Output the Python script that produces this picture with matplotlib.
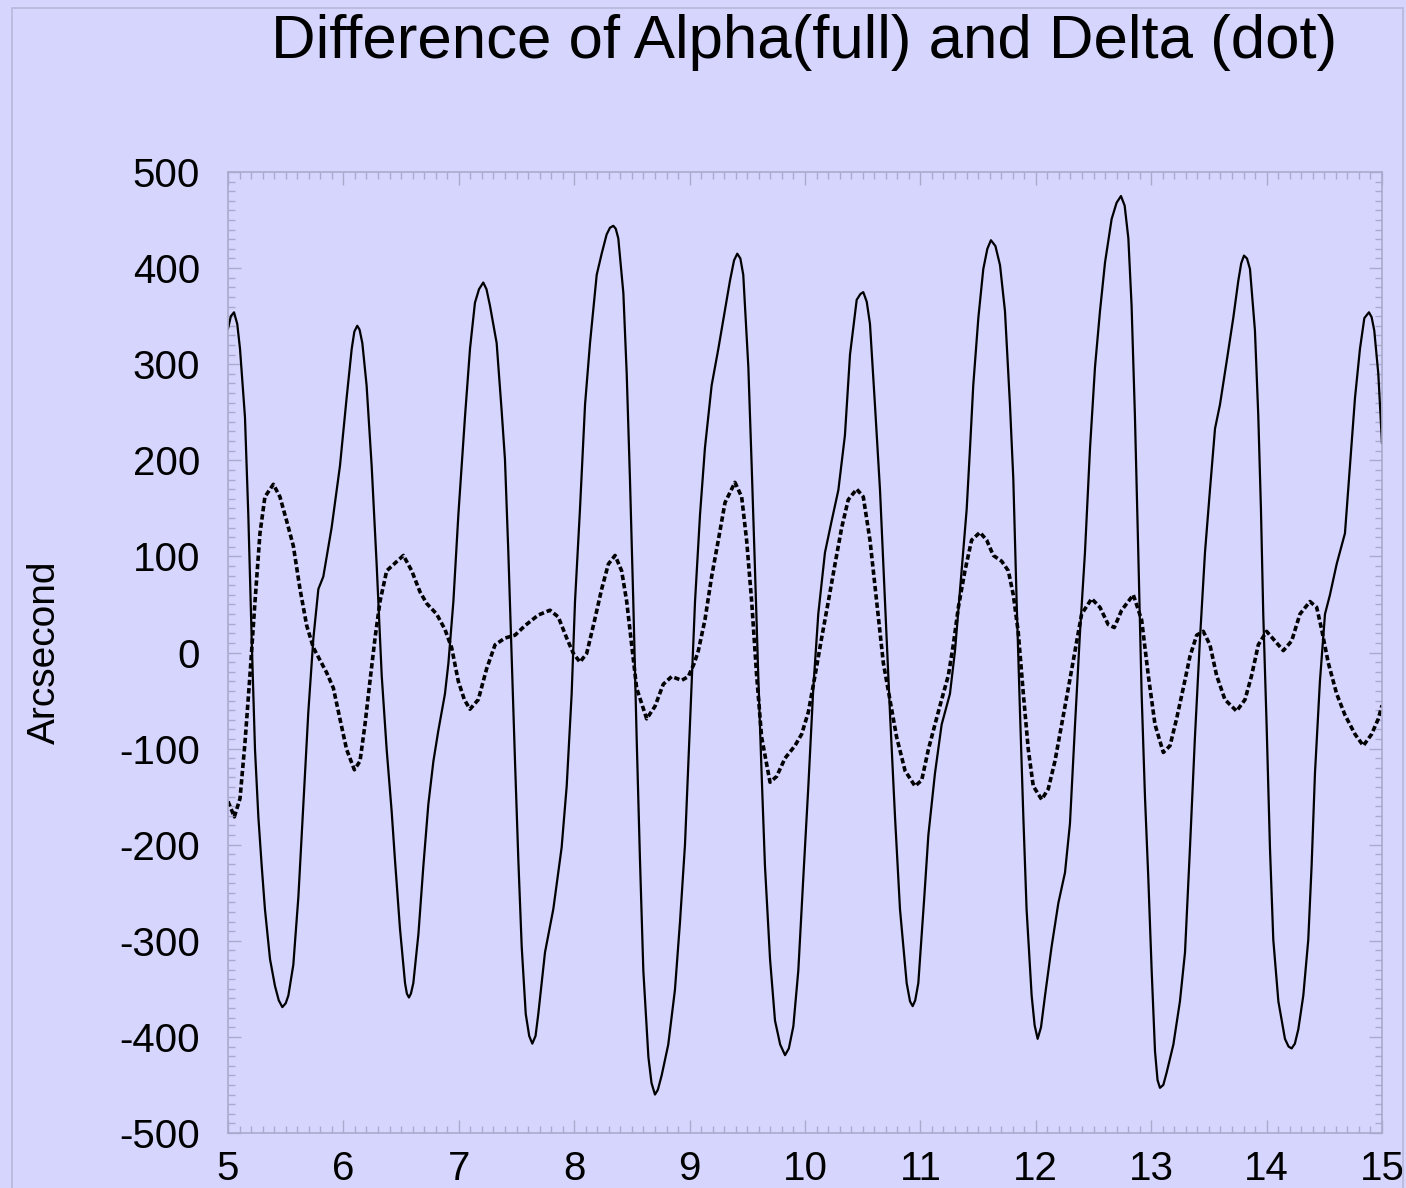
import matplotlib
matplotlib.use("Agg")
import matplotlib.pyplot as plt
from matplotlib.ticker import MultipleLocator
from matplotlib.patches import Rectangle

# values
alpha_x = [5.0, 5.025, 5.052, 5.08, 5.104, 5.147, 5.176, 5.205, 5.234, 5.263, 5.292, 5.32, 5.364,
           5.407, 5.44, 5.471, 5.5, 5.523, 5.566, 5.61, 5.653, 5.696, 5.74, 5.783, 5.826, 5.898,
           5.97, 6.028, 6.072, 6.095, 6.12, 6.14, 6.164, 6.201, 6.245, 6.288, 6.332, 6.375, 6.418,
           6.447, 6.49, 6.534, 6.55, 6.568, 6.585, 6.606, 6.65, 6.693, 6.736, 6.78, 6.823, 6.88,
           6.91, 6.953, 6.996, 7.054, 7.097, 7.14, 7.175, 7.212, 7.24, 7.27, 7.328, 7.371, 7.40,
           7.429, 7.458, 7.487, 7.516, 7.545, 7.58, 7.61, 7.637, 7.665, 7.689, 7.747, 7.819, 7.891,
           7.935, 7.978, 8.007, 8.05, 8.094, 8.137, 8.195, 8.238, 8.281, 8.31, 8.339, 8.36, 8.382,
           8.426, 8.455, 8.483, 8.512, 8.541, 8.57, 8.599, 8.643, 8.67, 8.70, 8.725, 8.758, 8.815,
           8.873, 8.917, 8.96, 9.003, 9.047, 9.09, 9.133, 9.191, 9.249, 9.321, 9.35, 9.385, 9.413,
           9.44, 9.465, 9.509, 9.538, 9.567, 9.595, 9.624, 9.653, 9.697, 9.74, 9.785, 9.827, 9.86,
           9.899, 9.942, 9.985, 10.029, 10.072, 10.115, 10.173, 10.231, 10.289, 10.346, 10.39,
           10.448, 10.48, 10.505, 10.535, 10.563, 10.606, 10.65, 10.693, 10.736, 10.78, 10.823,
           10.881, 10.91, 10.933, 10.955, 10.982, 11.034, 11.069, 11.126, 11.184, 11.256, 11.3,
           11.357, 11.401, 11.43, 11.458, 11.502, 11.545, 11.58, 11.611, 11.65, 11.69, 11.733,
           11.776, 11.805, 11.834, 11.863, 11.892, 11.92, 11.964, 11.99, 12.016, 12.045, 12.08,
           12.137, 12.195, 12.253, 12.296, 12.34, 12.383, 12.426, 12.47, 12.513, 12.556, 12.6,
           12.657, 12.7, 12.738, 12.77, 12.802, 12.83, 12.859, 12.888, 12.917, 12.946, 12.975,
           13.004, 13.033, 13.055, 13.076, 13.105, 13.134, 13.192, 13.249, 13.293, 13.336, 13.379,
           13.423, 13.466, 13.509, 13.553, 13.596, 13.654, 13.711, 13.755, 13.78, 13.804, 13.83,
           13.856, 13.899, 13.928, 13.951, 13.971, 14.0, 14.029, 14.058, 14.102, 14.159, 14.19,
           14.217, 14.245, 14.275, 14.318, 14.361, 14.39, 14.419, 14.462, 14.506, 14.549, 14.607,
           14.679, 14.722, 14.766, 14.809, 14.847, 14.887, 14.91, 14.933, 14.968, 15.0]
alpha_y = [337, 350, 354, 342, 316, 245, 143, 15, -101, -171, -222, -267, -319,
           -347, -362, -369, -365, -357, -325, -254, -158, -62, 15, 66, 79, 130,
           194, 265, 316, 334, 340, 336, 322, 278, 194, 92, -24, -101, -165,
           -216, -287, -344, -355, -359, -355, -344, -293, -222, -158, -113, -81, -43,
           -11, 53, 143, 246, 316, 364, 378, 385, 378, 361, 322, 252, 201,
           105, -4, -113, -216, -306, -376, -399, -407, -399, -376, -312, -267, -203,
           -139, -43, 53, 149, 258, 322, 393, 415, 435, 442, 444, 441, 431,
           374, 290, 181, 53, -88, -216, -331, -421, -448, -460, -455, -440, -408,
           -351, -280, -200, -75, 53, 143, 213, 278, 316, 367, 387, 408, 415,
           410, 393, 297, 194, 85, -24, -126, -222, -319, -383, -408, -419, -412,
           -389, -331, -235, -139, -37, 40, 104, 137, 169, 226, 310,
           367, 373, 375, 365, 342, 258, 169, 53, -62, -171, -267,
           -344, -363, -368, -362, -344, -254, -190, -126, -75, -43, 2,
           85, 149, 213, 278, 348, 399, 420, 429, 423, 403, 355,
           258, 181, 53, -62, -171, -267, -357, -388, -402, -390, -357,
           -306, -261, -229, -178, -75, 21, 104, 213, 297, 355, 406,
           451, 468, 475, 465, 431, 361, 246, 104, -43, -150, -235,
           -331, -415, -445, -453, -450, -437, -408, -363, -312, -203, -88,
           15, 104, 169, 233, 258, 303, 348, 387, 405, 413, 410,
           399, 335, 246, 149, 40, -75, -203, -299, -363, -402, -410,
           -412, -407, -392, -357, -299, -222, -126, -30, 40, 60, 92,
           124, 194, 265, 316, 348, 354, 349, 335, 290, 218]

delta_x = [5.0, 5.055, 5.104, 5.147, 5.19, 5.234, 5.277, 5.32, 5.393, 5.45, 5.508, 5.566, 5.624,
           5.682, 5.74, 5.797, 5.855, 5.913, 5.97, 6.028, 6.095, 6.144, 6.187, 6.23, 6.274, 6.317,
           6.375, 6.52, 6.592, 6.664, 6.722, 6.808, 6.88, 6.938, 6.996, 7.048, 7.097, 7.169, 7.241,
           7.314, 7.40, 7.487, 7.574, 7.689, 7.79, 7.862, 7.935, 7.993, 8.05, 8.108, 8.166, 8.238,
           8.296, 8.354, 8.411, 8.455, 8.498, 8.541, 8.628, 8.70, 8.772, 8.845, 8.931, 8.989, 9.041,
           9.076, 9.133, 9.191, 9.249, 9.307, 9.393, 9.451, 9.494, 9.538, 9.581, 9.624, 9.697, 9.754,
           9.827, 9.913, 9.971, 10.029, 10.087, 10.144, 10.202, 10.26, 10.318, 10.375, 10.448,
           10.505, 10.563, 10.621, 10.679, 10.736, 10.794, 10.867, 10.953, 11.011, 11.069, 11.126,
           11.184, 11.242, 11.285, 11.329, 11.386, 11.444, 11.516, 11.574, 11.632, 11.704, 11.762,
           11.805, 11.848, 11.892, 11.935, 11.978, 12.051, 12.108, 12.166, 12.224, 12.282, 12.34,
           12.397, 12.484, 12.556, 12.628, 12.68, 12.744, 12.845, 12.917, 12.975, 13.033, 13.105,
           13.163, 13.22, 13.278, 13.336, 13.394, 13.451, 13.509, 13.567, 13.639, 13.74, 13.813,
           13.87, 13.928, 14.0, 14.073, 14.145, 14.217, 14.289, 14.376, 14.434, 14.477, 14.535,
           14.607, 14.679, 14.766, 14.838, 14.91, 14.968, 15.0]
delta_y = [-155, -171, -152, -94, -24, 53, 124, 162, 175, 162, 137, 111, 66,
           28, 5, -8, -21, -37, -69, -101, -122, -113, -75, -30, 15, 53,
           85, 101, 85, 63, 51, 40, 24, 5, -30, -49, -59, -49, -17,
           8, 15, 18, 28, 39, 44, 37, 15, -1, -10, -1, 28, 66,
           92, 101, 85, 53, 8, -37, -69, -56, -33, -25, -29, -25, -11,
           2, 34, 79, 117, 156, 177, 162, 117, 53, -24, -88, -135, -129,
           -110, -97, -85, -62, -24, 15, 53, 92, 130, 159, 170,
           162, 117, 53, -11, -49, -88, -123, -139, -133, -101, -75,
           -49, -24, 8, 47, 85, 117, 125, 117, 101, 95, 85,
           60, 21, -43, -101, -139, -153, -142, -113, -75, -37, 2,
           40, 56, 47, 29, 26, 44, 60, 34, -24, -75, -104,
           -97, -69, -37, -4, 18, 22, 8, -24, -49, -61, -49,
           -24, 8, 22, 12, 2, 12, 40, 53, 47, 24, -11,
           -43, -65, -85, -97, -85, -69, -55]

x_ticks = list(range(5, 16))
y_ticks = list(range(-500, 501, 100))

bg = '#d5d5fe'
edge = '#aaaacc'

plt.rcParams['font.family'] = ['Liberation Sans', 'DejaVu Sans']
plt.rcParams['axes.unicode_minus'] = False

fig = plt.figure(figsize=(14.06, 11.88), dpi=100, facecolor=bg)
fig.patches.append(Rectangle((12 / 1406, -0.05), (1403 - 12) / 1406, 1.05 - 8 / 1188,
                             transform=fig.transFigure, fill=False, edgecolor='#b8b8d8', lw=1.2))

ax = fig.add_axes([228 / 1406, 1 - 1133 / 1188, (1382 - 228) / 1406, (1133 - 172) / 1188])
ax.set_facecolor(bg)

ax.plot(alpha_x, alpha_y, color='black', lw=1.6)
ax.plot(delta_x, delta_y, color='black', lw=2.6, dashes=(1.5, 0.8), dash_capstyle='butt')

ax.set_xlim(5, 15)
ax.set_ylim(-500, 500)
ax.set_xticks(x_ticks)
ax.set_yticks(y_ticks)
ax.xaxis.set_minor_locator(MultipleLocator(0.1))
ax.yaxis.set_minor_locator(MultipleLocator(10))
ax.tick_params(which='both', direction='in', top=True, right=True, color=edge, width=1)
ax.tick_params(which='major', length=9.5, labelsize=29)
ax.tick_params(which='minor', length=5)
ax.tick_params(axis='y', pad=20)
ax.tick_params(axis='x', pad=12)
for s in ax.spines.values():
    s.set_color(edge)
    s.set_linewidth(1.2)

fig.text(45 / 1406, 1 - 652 / 1188, 'Arcsecond', rotation=90, fontsize=28,
         ha='center', va='center')
fig.text(804 / 1406, 1 - 58 / 1188, 'Difference of Alpha(full) and Delta (dot)',
         fontsize=44.5, ha='center', va='baseline')

plt.savefig('out.png', dpi=100, facecolor=bg)
